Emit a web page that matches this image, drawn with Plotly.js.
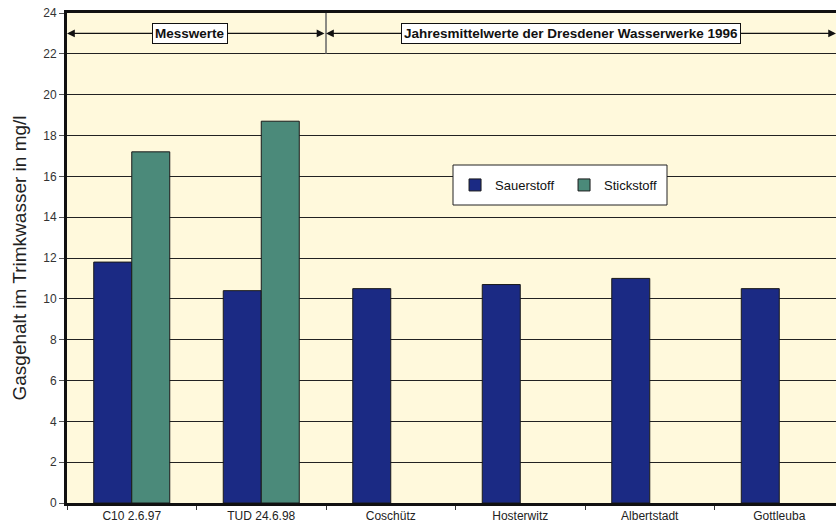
<!DOCTYPE html>
<html>
<head>
<meta charset="utf-8">
<script src="https://cdn.plot.ly/plotly-3.0.1.min.js"></script>
<style>html,body{margin:0;padding:0;background:#fff}#chart{width:836px;height:530px}</style>
</head>
<body>
<div id="chart"></div>
<script>
const categories = ["C10 2.6.97", "TUD 24.6.98", "Coschütz", "Hosterwitz", "Albertstadt", "Gottleuba"];
const sauerstoff = [11.8, 10.4, 10.5, 10.7, 11.0, 10.5];
const stickstoff = [17.2, 18.7, null, null, null, null];
const seriesNames = ["Sauerstoff", "Stickstoff"];
const groupLabels = ["Messwerte", "Jahresmittelwerte der Dresdener Wasserwerke 1996"];
const yTitle = "Gasgehalt im Trimkwasser in mg/l";

const font = "Liberation Sans, Arial, sans-serif";
const traces = [
  {type: "bar", name: seriesNames[0], x: categories, y: sauerstoff,
   marker: {color: "#1b2a84", line: {color: "#1a1a1a", width: 1}}},
  {type: "bar", name: seriesNames[1], x: categories, y: stickstoff,
   marker: {color: "#4b8a7a", line: {color: "#1a1a1a", width: 1}}}
];

const layout = {
  width: 836, height: 530,
  margin: {l: 67, r: 0, t: 13, b: 27},
  paper_bgcolor: "#ffffff",
  plot_bgcolor: "#fff9dc",
  barmode: "group",
  bargap: 0.413,
  bargroupgap: 0,
  font: {family: font, size: 12, color: "#222"},
  showlegend: true,
  legend: {orientation: "h", x: 0.5046, y: 0.649, xanchor: "left", yanchor: "middle",
           bgcolor: "rgba(0,0,0,0)", borderwidth: 0,
           font: {family: font, size: 13, color: "#111"},
           itemwidth: 30, traceorder: "normal", entrywidth: 64},
  xaxis: {type: "category", range: [-0.5, 5.438], tickson: "boundaries", ticks: "outside",
          ticklen: 4, tickcolor: "#333", showline: true, linecolor: "#111", linewidth: 3,
          mirror: true, showgrid: false, tickfont: {family: font, size: 12, color: "#222"}, fixedrange: true},
  yaxis: {range: [0, 24], dtick: 2, ticks: "outside", ticklen: 5, tickcolor: "#555",
          showline: true, linecolor: "#111", linewidth: 3, showgrid: true, gridcolor: "#222", gridwidth: 1,
          zeroline: false, tickfont: {family: font, size: 12, color: "#333"},
          title: {text: yTitle, font: {family: font, size: 19, color: "#222"}, standoff: 12}},
  shapes: [
    {type: "line", xref: "x", yref: "y", x0: 1.5, x1: 1.5, y0: 22, y1: 24, line: {color: "#666", width: 1.5}},
    {type: "rect", xref: "paper", yref: "paper", x0: (453 - 67) / 769, x1: (667 - 67) / 769,
     y0: (503 - 205) / 490, y1: (503 - 165) / 490, fillcolor: "#ffffff", line: {color: "#222", width: 1}, layer: "above"}
  ],
  annotations: [
    {xref: "x", yref: "y", axref: "x", ayref: "y", x: -0.5, y: 23, ax: 1.5, ay: 23, text: "",
     showarrow: true, arrowhead: 2, arrowside: "end+start", arrowsize: 1.3, arrowwidth: 1.2, arrowcolor: "#111"},
    {xref: "x", yref: "y", axref: "x", ayref: "y", x: 1.5, y: 23, ax: 5.45, ay: 23, text: "",
     showarrow: true, arrowhead: 2, arrowside: "end+start", arrowsize: 1.3, arrowwidth: 1.2, arrowcolor: "#111"},
    {xref: "x", yref: "y", x: 0.45, y: 23, text: "<b>" + groupLabels[0] + "</b>", showarrow: false,
     bgcolor: "#ffffff", bordercolor: "#111", borderwidth: 1, borderpad: 2,
     font: {family: font, size: 13.5, color: "#111"}},
    {xref: "x", yref: "y", x: 3.39, y: 23, text: "<b>" + groupLabels[1] + "</b>", showarrow: false,
     bgcolor: "#ffffff", bordercolor: "#111", borderwidth: 1, borderpad: 2,
     font: {family: font, size: 13.5, color: "#111"}}
  ]
};

Plotly.newPlot("chart", traces, layout, {displayModeBar: false, staticPlot: true});
</script>
</body>
</html>
